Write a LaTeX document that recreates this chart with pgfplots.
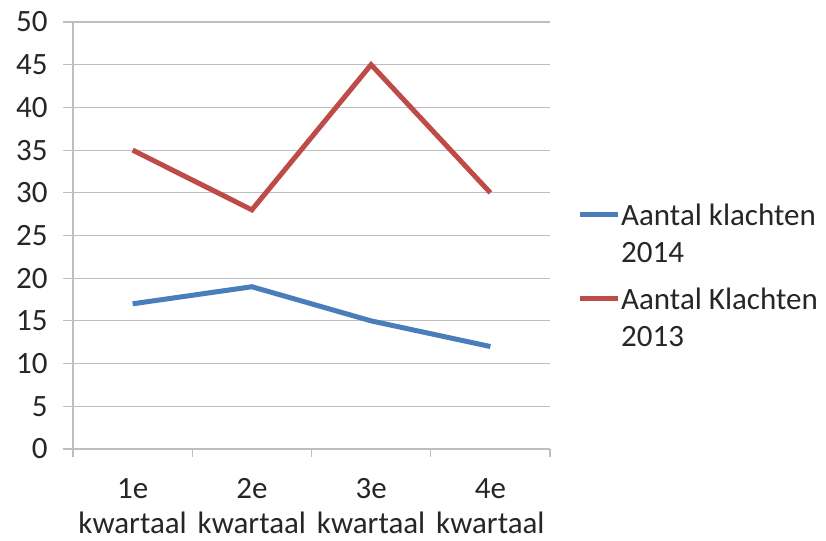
\documentclass[border=0pt]{standalone}
\usepackage{fontspec}
\setmainfont{Carlito}
\usepackage{pgfplots}
\pgfplotsset{compat=1.18}
\definecolor{exblue}{RGB}{74,126,187}
\definecolor{exred}{RGB}{190,75,72}
\definecolor{gridc}{RGB}{190,190,190}
\begin{document}
\begin{tikzpicture}
\useasboundingbox (0,0) rectangle (826bp,541bp);
\begin{axis}[
  at={(73bp,92bp)}, anchor=south west,
  scale only axis, width=477bp, height=427bp,
  xmin=-0.5, xmax=3.5, ymin=0, ymax=50,
  axis lines=left,
  axis line style={draw=gridc, line width=1.2pt, -},
  ytick={0,5,...,50},
  ymajorgrids, grid style={draw=gridc, line width=1.2pt},
  xtick={0,1,2,3},
  xticklabels={{1e\\kwartaal},{2e\\kwartaal},{3e\\kwartaal},{4e\\kwartaal}},
  minor xtick={-0.5,0.5,1.5,2.5,3.5},
  tick align=outside,
  major tick length=10bp, minor tick length=8bp,
  x tick style={draw=none},
  minor x tick style={draw=gridc, line width=1.2pt},
  y tick style={draw=gridc, line width=1.2pt},
  /pgf/number format/assume math mode=true,
  ticklabel style={font=\fontsize{31bp}{35bp}\selectfont, text=black!85},
  xticklabel style={align=center, yshift=-16bp},
  yticklabel style={xshift=-12bp},
  legend style={at={(1.0566,0.405)}, anchor=west, draw=none, fill=none,
    font=\fontsize{31bp}{37bp}\selectfont, text=black!85,
    cells={align=left, anchor=west}, row sep=20bp, inner sep=0pt,
    nodes={inner xsep=1bp}},
  legend image code/.code={\draw[#1, line width=5bp] (0bp,20bp) -- (38bp,20bp);},
  every axis plot/.append style={line width=5bp},
  clip=false,
]
\addplot[exblue, mark=none] coordinates {(0,17) (1,19) (2,15) (3,12)};
\addlegendentry{Aantal klachten\\2014}
\addplot[exred, mark=none] coordinates {(0,35) (1,28) (2,45) (3,30)};
\addlegendentry{Aantal Klachten\\2013}
\end{axis}
\end{tikzpicture}
\end{document}
